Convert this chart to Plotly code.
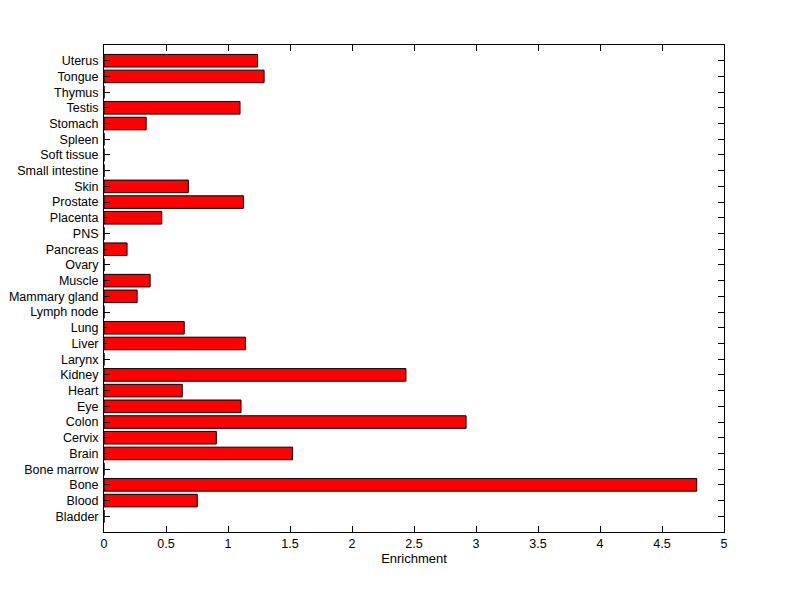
import plotly.graph_objects as go

tissues = ["Bladder", "Blood", "Bone", "Bone marrow", "Brain", "Cervix", "Colon", "Eye",
           "Heart", "Kidney", "Larynx", "Liver", "Lung", "Lymph node", "Mammary gland",
           "Muscle", "Ovary", "Pancreas", "PNS", "Placenta", "Prostate", "Skin",
           "Small intestine", "Soft tissue", "Spleen", "Stomach", "Testis", "Thymus",
           "Tongue", "Uterus"]
enrichment = [0, 0.752, 4.78, 0, 1.521, 0.906, 2.92, 1.105,
              0.631, 2.435, 0, 1.141, 0.647, 0, 0.267,
              0.372, 0, 0.186, 0, 0.466, 1.124, 0.680,
              0, 0, 0, 0.340, 1.097, 0,
              1.291, 1.238]
x_ticks = [0, 0.5, 1, 1.5, 2, 2.5, 3, 3.5, 4, 4.5, 5]
x_tick_labels = ["0", "0.5", "1", "1.5", "2", "2.5", "3", "3.5", "4", "4.5", "5"]

idx = list(range(len(tissues)))
fig = go.Figure(go.Bar(
    x=enrichment, y=idx, orientation="h", width=0.8,
    marker=dict(color="#ff0000", line=dict(color="black", width=1)),
))

fig.update_layout(
    width=800, height=599,
    margin=dict(l=96, r=84, t=37, b=75, autoexpand=False),
    plot_bgcolor="white", paper_bgcolor="white",
    font=dict(family="Liberation Sans, Arial, sans-serif", size=12.5, color="black"),
    showlegend=False,
    xaxis=dict(range=[0, 5], tickvals=x_ticks, ticktext=x_tick_labels,
               ticks="inside", ticklen=6, tickcolor="black", tickwidth=1,
               showline=True, linecolor="black", linewidth=1, mirror="ticks",
               showgrid=False, zeroline=False, automargin=False,
               title=dict(text="Enrichment", standoff=2, font=dict(size=13))),
    yaxis=dict(range=[-1, 30], tickvals=idx, ticktext=tissues,
               ticks="inside", ticklen=6, tickcolor="black", tickwidth=1,
               ticklabelstandoff=2,
               showline=True, linecolor="black", linewidth=1, mirror="ticks",
               showgrid=False, zeroline=False, automargin=False),
)

fig.write_html("out.html")
